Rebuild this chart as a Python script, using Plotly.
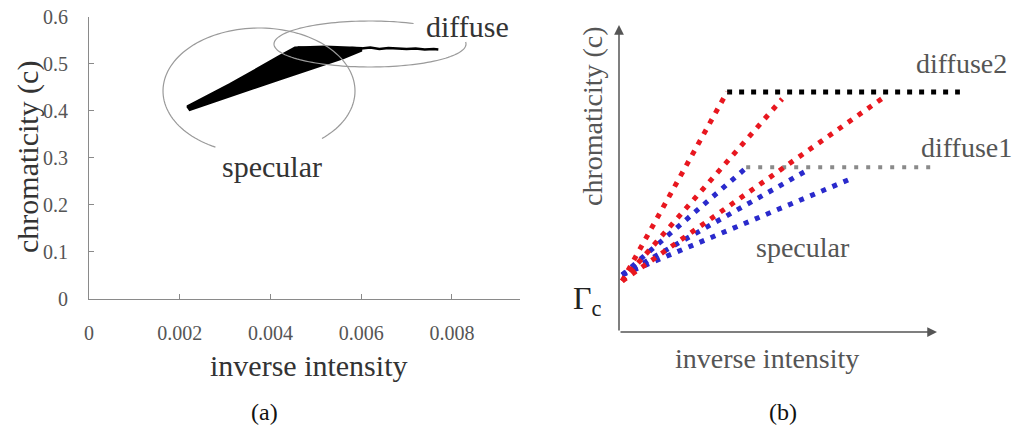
import numpy as np
import plotly.graph_objects as go

W, H = 1012, 429

# ---------------- Panel (a) data ----------------
a_yticks = [0, 0.1, 0.2, 0.3, 0.4, 0.5, 0.6]
a_yticklabels = ["0", "0.1", "0.2", "0.3", "0.4", "0.5", "0.6"]
a_xticks = [0, 0.002, 0.004, 0.006, 0.008]
a_xticklabels = ["0", "0.002", "0.004", "0.006", "0.008"]

# specular band (dense cloud of points) outline: upper edge then lower edge
band_upper_x = [0.00216, 0.0031, 0.0042, 0.00454, 0.0052, 0.0060]
band_upper_y = [0.409, 0.456, 0.516, 0.534, 0.536, 0.533]
band_lower_x = [0.0060, 0.0056, 0.0042, 0.00222]
band_lower_y = [0.527, 0.511, 0.466, 0.401]

# diffuse points (noisy flat line)
diff_x = [0.0046, 0.0048, 0.0050, 0.0052, 0.0054, 0.0056, 0.0058, 0.0060, 0.0062,
          0.0064, 0.0066, 0.0068, 0.0070, 0.0072, 0.0074, 0.0076, 0.0077]
diff_y = [0.534, 0.533, 0.534, 0.532, 0.533, 0.531, 0.533, 0.532, 0.534,
          0.531, 0.533, 0.532, 0.531, 0.532, 0.530, 0.531, 0.530]

# ---------------- Panel (b) data ----------------
red_start = (0.1, 1.66)
red_end_x = [3.40, 5.13, 8.43]
red_end_y = [7.82, 7.59, 7.72]
blue_start = (0.1, 1.86)
blue_end_x = [3.96, 5.94, 7.36]
blue_end_y = [5.31, 5.28, 5.02]
diffuse2_x = [3.40, 10.72]
diffuse2_y = [7.82, 7.82]
diffuse1_x = [4.0, 9.94]
diffuse1_y = [5.37, 5.37]

SERIF = "Liberation Serif, Times New Roman, serif"

fig = go.Figure()

# ---- panel (a) traces ----
fig.add_trace(go.Scatter(
    x=band_upper_x + band_lower_x + [band_upper_x[0]],
    y=band_upper_y + band_lower_y + [band_upper_y[0]],
    mode="lines", fill="toself", fillcolor="black",
    line=dict(color="black", width=2), xaxis="x", yaxis="y", showlegend=False))
fig.add_trace(go.Scatter(
    x=diff_x, y=diff_y, mode="lines",
    line=dict(color="black", width=2.5), xaxis="x", yaxis="y", showlegend=False))

# ---- panel (b) traces ----
fig.add_trace(go.Scatter(x=diffuse2_x, y=diffuse2_y, mode="lines",
                         line=dict(color="black", width=5, dash="5px,7px"),
                         xaxis="x2", yaxis="y2", showlegend=False))
fig.add_trace(go.Scatter(x=diffuse1_x, y=diffuse1_y, mode="lines",
                         line=dict(color="#8a8a8a", width=4, dash="4px,8px"),
                         xaxis="x2", yaxis="y2", showlegend=False))
for ex, ey in zip(blue_end_x, blue_end_y):
    fig.add_trace(go.Scatter(x=[blue_start[0], ex], y=[blue_start[1], ey], mode="lines",
                             line=dict(color="#2a2acc", width=5, dash="5px,7px"),
                             xaxis="x2", yaxis="y2", showlegend=False))
for ex, ey in zip(red_end_x, red_end_y):
    fig.add_trace(go.Scatter(x=[red_start[0], ex], y=[red_start[1], ey], mode="lines",
                             line=dict(color="#e8171f", width=5, dash="5px,7px"),
                             xaxis="x2", yaxis="y2", showlegend=False))

# ---- ellipses around clusters (pixel geometry -> paper) ----
ellipses = [
    # cx, cy, rx, ry, start angle, end angle (deg, screen coords)
    (259, 91, 96, 63, 117, 409),
    (370, 44, 96, 23, -5, 297),
]
shapes = []
for cx, cy, rx, ry, a0, a1 in ellipses:
    t = np.radians(np.linspace(a0, a1, 120))
    px = cx + rx * np.cos(t)
    py = cy + ry * np.sin(t)
    path = "M " + " L ".join(f"{x / W:.5f},{1 - y / H:.5f}" for x, y in zip(px, py))
    shapes.append(dict(type="path", path=path, xref="paper", yref="paper",
                       line=dict(color="#9a9a9a", width=1.2)))

ann = []
def txt(text, x, y, size, color="#333", angle=0, xanchor="center", yanchor="middle"):
    ann.append(dict(text=text, x=x / W, y=1 - y / H, xref="paper", yref="paper",
                    showarrow=False, textangle=angle, xanchor=xanchor, yanchor=yanchor,
                    font=dict(family=SERIF, size=size, color=color)))

# panel (a) texts
txt("chromaticity (c)", 28, 157, 30, "#333", angle=-90)
txt("inverse intensity", 308, 365, 30, "#333")
txt("diffuse", 424, 27, 30, "#333", xanchor="left")
txt("specular", 272, 166, 30, "#333")
txt("(a)", 264, 412, 24, "#111")

# panel (b) texts
txt("chromaticity (c)", 593, 116, 28, "#555", angle=-90)
txt("inverse intensity", 767, 358, 28, "#555")
txt("diffuse2", 914, 63, 28, "#555", xanchor="left")
txt("diffuse1", 919, 147, 28, "#555", xanchor="left")
txt("specular", 803, 247, 28, "#555")
txt("Γ<sub>c</sub>", 604, 300, 32, "#222", xanchor="right")
txt("(b)", 783, 412, 24, "#111")

# axis arrows for panel (b)
ann.append(dict(x=0, y=10, ax=0, ay=0, xref="x2", yref="y2", axref="x2", ayref="y2",
                text="", showarrow=True, arrowhead=2, arrowsize=1.3, arrowwidth=1.5,
                arrowcolor="#555"))
ann.append(dict(x=10, y=0, ax=0, ay=0, xref="x2", yref="y2", axref="x2", ayref="y2",
                text="", showarrow=True, arrowhead=2, arrowsize=1.3, arrowwidth=1.5,
                arrowcolor="#555"))

fig.update_layout(
    width=W, height=H,
    margin=dict(l=0, r=0, t=0, b=0, autoexpand=False),
    paper_bgcolor="white", plot_bgcolor="white",
    showlegend=False,
    xaxis=dict(domain=[89 / W, 520 / W], range=[0, 0.0095], anchor="y", automargin=False,
               showgrid=False, zeroline=False, showline=True, linecolor="#8a8a8a", linewidth=1,
               ticks="inside", ticklen=5, tickcolor="#8a8a8a",
               tickvals=a_xticks, ticktext=a_xticklabels, ticklabelstandoff=16,
               tickfont=dict(family=SERIF, size=20, color="#555")),
    yaxis=dict(domain=[1 - 298.5 / H, 1 - 16.5 / H], range=[0, 0.6], anchor="x", automargin=False,
               showgrid=False, zeroline=False, showline=True, linecolor="#8a8a8a", linewidth=1,
               ticks="inside", ticklen=5, tickcolor="#8a8a8a",
               tickvals=a_yticks, ticktext=a_yticklabels, ticklabelstandoff=16,
               tickfont=dict(family=SERIF, size=20, color="#555")),
    xaxis2=dict(domain=[619 / W, (619 + 11 * 31.8) / W], range=[0, 11], anchor="y2",
                visible=False, automargin=False),
    yaxis2=dict(domain=[1 - 332 / H, 1 - 25 / H], range=[0, 10], anchor="x2",
                visible=False, automargin=False),
    shapes=shapes,
    annotations=ann,
)

fig.write_html("out.html", config={"displayModeBar": False},
               post_script="document.body.style.margin='0';document.body.style.overflow='hidden';")
